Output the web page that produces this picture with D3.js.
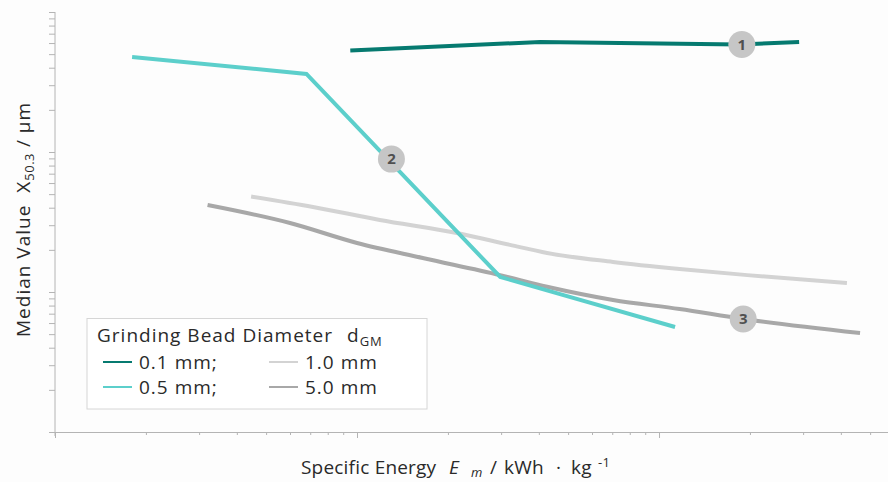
<!DOCTYPE html>
<html>
<head>
<meta charset="utf-8">
<script src="https://cdn.jsdelivr.net/npm/d3@7"></script>
<style>
  body { margin: 0; background: #fdfdfd; }
  svg { display: block; font-family: "Open Sans", "Noto Sans", sans-serif; }
  .lbl { font-size: 19px; letter-spacing: 1px; fill: #2a2a2a; }
</style>
</head>
<body>
<div class="chart"></div>
<script>
// 데이터 (log-log, values)
const seriesNames = ['0.1 mm;', '0.5 mm;', '1.0 mm', '5.0 mm'];
const seriesColors = ['#067a70', '#5ccfcb', '#d3d3d3', '#a8a8a8'];

const x01 = [0.095, 0.404, 1.85, 2.91];
const y01 = [53.1, 61.1, 58.6, 61.1];

const x05 = [0.018, 0.068, 0.298, 1.13];
const y05 = [47.7, 36.1, 1.28, 0.562];

const x10 = [0.0446, 0.0715, 0.119, 0.214, 0.321, 0.426, 0.704, 1.17, 1.96, 4.19];
const y10 = [4.81, 4.05, 3.27, 2.64, 2.17, 1.90, 1.64, 1.46, 1.32, 1.16];

const x50 = [0.032, 0.06, 0.1, 0.165, 0.298, 0.426, 0.704, 1.17, 1.90, 4.63];
const y50 = [4.18, 3.11, 2.24, 1.75, 1.32, 1.09, 0.877, 0.756, 0.642, 0.509];

// numbered markers on the curves
const markerNum = ['1', '2', '3'];
const markerX = [1.88, 0.13, 1.90];
const markerY = [58.6, 8.9, 0.642];

const xDomain = [0.01, 5.73];
const yDomain = [0.1, 100];

/*------------- chart -------------*/
const W = 888, H = 482;

const x = d3.scaleLog().domain(xDomain).range([55, 888]);
const y = d3.scaleLog().domain(yDomain).range([432, 12]);

const svg = d3.select('.chart')
  .append('svg')
  .attr('width', W)
  .attr('height', H);

const isMajor = v => Math.abs(Math.log10(v) - Math.round(Math.log10(v))) < 1e-6;

// x axis
const gx = svg.append('g')
  .attr('transform', 'translate(0,432)')
  .call(d3.axisBottom(x).tickFormat('').tickSizeOuter(0));
gx.selectAll('.tick line').attr('y2', d => isMajor(d) ? 6 : 3);

// y axis
const gy = svg.append('g')
  .attr('transform', 'translate(55,0)')
  .call(d3.axisLeft(y).tickFormat('').tickSize(6).tickSizeOuter(0));

svg.selectAll('.domain, .tick line').attr('stroke', '#b4b4b4');
// y axis runs a little below the x axis
gy.select('.domain').attr('d', 'M0,12V436');

// lines
const lineLin = d3.line().x(d => x(d[0])).y(d => y(d[1]));
const lineSmooth = d3.line().x(d => x(d[0])).y(d => y(d[1])).curve(d3.curveMonotoneX);

const seriesData = [
  {pts: d3.zip(x10, y10), line: lineSmooth, color: seriesColors[2]},
  {pts: d3.zip(x50, y50), line: lineSmooth, color: seriesColors[3]},
  {pts: d3.zip(x05, y05), line: lineLin, color: seriesColors[1]},
  {pts: d3.zip(x01, y01), line: lineLin, color: seriesColors[0]}
];

svg.append('g').selectAll('path')
  .data(seriesData)
  .enter().append('path')
  .attr('fill', 'none')
  .attr('stroke', d => d.color)
  .attr('stroke-width', 4)
  .attr('d', d => d.line(d.pts));

// number circles
const mk = svg.append('g').selectAll('g')
  .data(markerNum)
  .enter().append('g')
  .attr('transform', (d, i) => `translate(${x(markerX[i])},${y(markerY[i])})`);
mk.append('circle').attr('r', 13.5).attr('fill', '#c6c6c6');
mk.append('text')
  .attr('text-anchor', 'middle')
  .attr('dy', '0.36em')
  .attr('font-size', 15)
  .attr('font-weight', 'bold')
  .attr('fill', '#505050')
  .text(d => d);

// legend
const lg = svg.append('g');
lg.append('rect')
  .attr('x', 87).attr('y', 318.5)
  .attr('width', 340).attr('height', 90.5)
  .attr('fill', '#ffffff')
  .attr('stroke', '#d6d6d6');

const lt = lg.append('text')
  .attr('class', 'lbl')
  .attr('x', 97).attr('y', 342);
lt.append('tspan').text('Grinding Bead Diameter');
lt.append('tspan').attr('x', 347).text('d');
lt.append('tspan').attr('font-size', 13).attr('dy', 4).text('GM');

const legX = [103, 103, 269, 269];
const legY = [362, 387, 362, 387];
const legOrder = [0, 1, 2, 3];

const li = lg.selectAll('g.item')
  .data(legOrder)
  .enter().append('g')
  .attr('class', 'item');
li.append('line')
  .attr('x1', i => legX[i]).attr('x2', i => legX[i] + 29)
  .attr('y1', i => legY[i]).attr('y2', i => legY[i])
  .attr('stroke', i => seriesColors[i])
  .attr('stroke-width', 2);
li.append('text')
  .attr('class', 'lbl')
  .attr('x', i => legX[i] + 36)
  .attr('y', i => legY[i] + 6.5)
  .text(i => seriesNames[i]);

// axis titles
const xt = svg.append('text')
  .attr('class', 'lbl')
  .attr('letter-spacing', 0.2)
  .style('letter-spacing', '0.2px')
  .attr('y', 474);
xt.append('tspan').attr('x', 301).text('Specific Energy');
xt.append('tspan').attr('x', 449).attr('font-style', 'italic').text('E');
xt.append('tspan').attr('x', 471).attr('dy', 3).attr('font-size', 13).attr('font-style', 'italic').text('m');
xt.append('tspan').attr('x', 490).attr('dy', -3).text('/');
xt.append('tspan').attr('x', 504).text('kWh');
xt.append('tspan').attr('x', 556).text('·');
xt.append('tspan').attr('x', 571).text('kg');
xt.append('tspan').attr('x', 598).attr('dy', -7).attr('font-size', 13).text('-1');

const yt = svg.append('text')
  .attr('class', 'lbl')
  .attr('transform', 'translate(30,337) rotate(-90)');
yt.append('tspan').text('Median Value');
yt.append('tspan').attr('dx', 12).text('X');
yt.append('tspan').attr('dy', 4).attr('font-size', 13).attr('letter-spacing', 0.5).text('50.3');
yt.append('tspan').attr('dy', -4).text(' / µm');
</script>
</body>
</html>
